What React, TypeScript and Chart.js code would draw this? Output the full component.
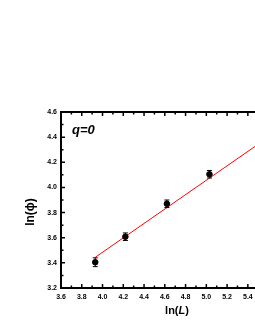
import React, { useEffect, useRef } from "react";
import { Chart, registerables } from "chart.js";

Chart.register(...registerables);

const lnL = [3.93, 4.22, 4.62, 5.03];
const lnPhi = [3.405, 3.608, 3.87, 4.105];
const errs = [0.035, 0.03, 0.03, 0.03];
const fitX = [3.93, 5.6];
const fitY = [3.444, 4.401];
const xTicks = { min: 3.6, max: 6.0, step: 0.2 };
const yTicks = { min: 3.2, max: 4.6, step: 0.2 };

const FONT = "'Liberation Sans', Arial, 'DejaVu Sans', sans-serif";

const framePlugin = {
  id: "frameAndExtras",
  afterDatasetsDraw(chart: any) {
    const ctx = chart.ctx;
    const x = chart.scales.x;
    const y = chart.scales.y;
    ctx.save();
    ctx.strokeStyle = "#000";
    ctx.lineWidth = 1;
    for (let i = 0; i < lnL.length; i++) {
      const px = x.getPixelForValue(lnL[i]);
      const y1 = y.getPixelForValue(lnPhi[i] - errs[i]);
      const y2 = y.getPixelForValue(lnPhi[i] + errs[i]);
      ctx.beginPath();
      ctx.moveTo(px, y1);
      ctx.lineTo(px, y2);
      ctx.moveTo(px - 2.5, y1);
      ctx.lineTo(px + 2.5, y1);
      ctx.moveTo(px - 2.5, y2);
      ctx.lineTo(px + 2.5, y2);
      ctx.stroke();
    }
    ctx.restore();
  },
  afterDraw(chart: any) {
    const ctx = chart.ctx;
    const ca = chart.chartArea;
    const x = chart.scales.x;
    const y = chart.scales.y;
    ctx.save();
    ctx.strokeStyle = "#000";
    ctx.lineWidth = 2;
    ctx.strokeRect(ca.left, ca.top, ca.right - ca.left, ca.bottom - ca.top);
    ctx.lineWidth = 1.5;
    const nx = Math.round((xTicks.max - xTicks.min) / (xTicks.step / 2));
    for (let i = 0; i <= nx; i++) {
      const v = xTicks.min + (i * xTicks.step) / 2;
      const px = x.getPixelForValue(v);
      const len = i % 2 === 0 ? 4 : 2.5;
      ctx.beginPath();
      ctx.moveTo(px, ca.bottom);
      ctx.lineTo(px, ca.bottom - len);
      ctx.moveTo(px, ca.top);
      ctx.lineTo(px, ca.top + len);
      ctx.stroke();
    }
    const ny = Math.round((yTicks.max - yTicks.min) / (yTicks.step / 2));
    for (let i = 0; i <= ny; i++) {
      const v = yTicks.min + (i * yTicks.step) / 2;
      const py = y.getPixelForValue(v);
      const len = i % 2 === 0 ? 4 : 2.5;
      ctx.beginPath();
      ctx.moveTo(ca.left, py);
      ctx.lineTo(ca.left + len, py);
      ctx.moveTo(ca.right, py);
      ctx.lineTo(ca.right - len, py);
      ctx.stroke();
    }
    ctx.fillStyle = "#000";
    ctx.textBaseline = "middle";
    ctx.textAlign = "left";
    ctx.font = `italic bold 13px ${FONT}`;
    ctx.fillText("q=0", 72, 130);
    const parts = [
      { t: "ln(", f: `bold 11px ${FONT}` },
      { t: "L", f: `italic bold 11px ${FONT}` },
      { t: ")", f: `bold 11px ${FONT}` },
    ];
    let total = 0;
    for (const p of parts) {
      ctx.font = p.f;
      total += ctx.measureText(p.t).width;
    }
    let cx = 177 - total / 2;
    for (const p of parts) {
      ctx.font = p.f;
      ctx.fillText(p.t, cx, 311);
      cx += ctx.measureText(p.t).width;
    }
    ctx.translate(31, 212);
    ctx.rotate(-Math.PI / 2);
    ctx.textAlign = "center";
    ctx.font = `bold 12px ${FONT}`;
    ctx.fillText("ln(ϕ)", 0, 0);
    ctx.restore();
  },
};

export default function App() {
  const ref = useRef<HTMLCanvasElement>(null);
  useEffect(() => {
    if (!ref.current) return;
    const chart = new Chart(ref.current, {
      type: "scatter",
      data: {
        datasets: [
          {
            label: "data",
            data: lnL.map((v, i) => ({ x: v, y: lnPhi[i] })),
            pointRadius: 2.8,
            pointBackgroundColor: "#000",
            pointBorderColor: "#000",
            showLine: false,
          },
          {
            label: "fit",
            data: fitX.map((v, i) => ({ x: v, y: fitY[i] })),
            showLine: true,
            borderColor: "#ff0000",
            borderWidth: 1,
            pointRadius: 0,
          },
        ],
      },
      options: {
        animation: false,
        responsive: false,
        events: [],
        layout: { padding: { left: 0, top: 112, right: 6, bottom: 0 } },
        plugins: { legend: { display: false }, tooltip: { enabled: false } },
        scales: {
          x: {
            type: "linear",
            min: xTicks.min,
            max: xTicks.max,
            grid: { display: false, drawTicks: false, tickLength: 0 },
            border: { display: false },
            afterFit: (s: any) => {
              s.height = 42;
            },
            ticks: {
              stepSize: xTicks.step,
              autoSkip: false,
              maxRotation: 0,
              padding: 5,
              color: "#000",
              font: { family: FONT, size: 7, weight: "bold" },
              callback: (v: any) => Number(v).toFixed(1),
            },
          },
          y: {
            type: "linear",
            min: yTicks.min,
            max: yTicks.max,
            grid: { display: false, drawTicks: false, tickLength: 0 },
            border: { display: false },
            afterFit: (s: any) => {
              s.width = 61;
            },
            ticks: {
              stepSize: yTicks.step,
              autoSkip: false,
              padding: 4,
              color: "#000",
              font: { family: FONT, size: 7, weight: "bold" },
              callback: (v: any) => Number(v).toFixed(1),
            },
          },
        },
      },
      plugins: [framePlugin],
    });
    return () => chart.destroy();
  }, []);
  return (
    <div
      style={{
        position: "fixed",
        left: 0,
        top: 0,
        width: 255,
        height: 330,
        overflow: "hidden",
        background: "#fff",
      }}
    >
      <canvas ref={ref} width={320} height={330} style={{ display: "block" }} />
    </div>
  );
}
